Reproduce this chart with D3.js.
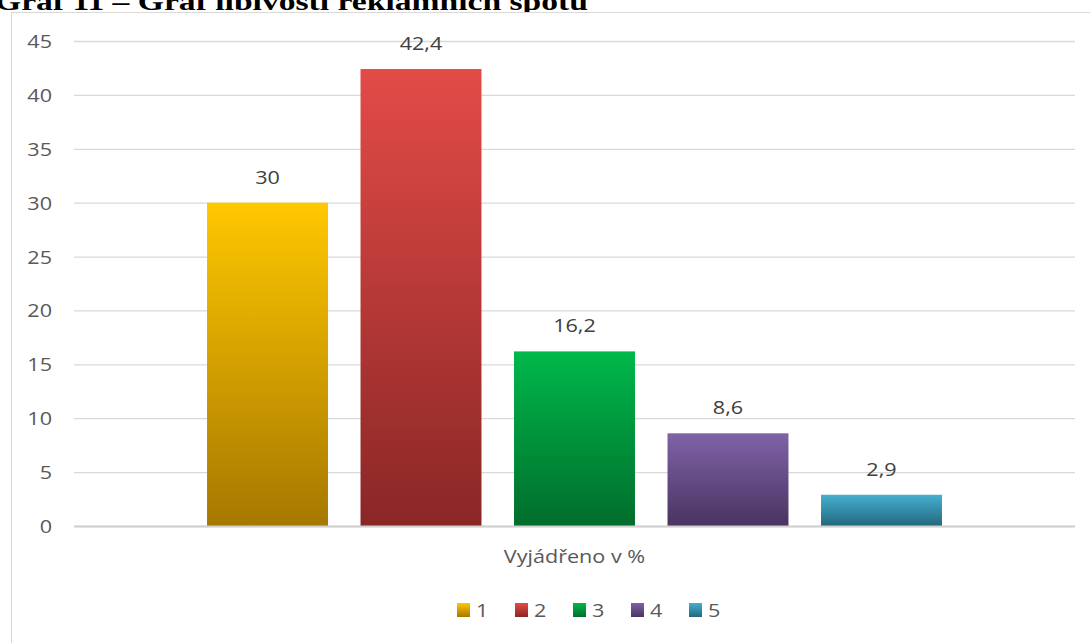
<!DOCTYPE html>
<html>
<head>
<meta charset="utf-8">
<script src="https://cdn.jsdelivr.net/npm/d3@7"></script>
<style>
  html, body { margin: 0; padding: 0; background: #fff; overflow: hidden; }
  svg { display: block; }
</style>
</head>
<body>
<script>
// Chart data
const categories = ["Vyjádřeno v %"];
const series = ["1", "2", "3", "4", "5"];
const values = [30, 42.4, 16.2, 8.6, 2.9];
const yTicks = [0, 5, 10, 15, 20, 25, 30, 35, 40, 45];
const topColors = ["#ffc800", "#e34b47", "#00b84b", "#7f62a7", "#46afd0"];
const bottomColors = ["#a67800", "#892726", "#006d2c", "#493461", "#22687d"];
const titleText = "Graf 11 – Graf líbivosti reklamních spotů";

const W = 1090, H = 643;
const plot = { left: 74, right: 1075, top: 41, bottom: 526 };
const FONT = "'Open Sans', sans-serif";
const SX = 1.2; // horizontal stretch of the chart lettering

const cz = d3.formatLocale({ decimal: ",", thousands: " ", grouping: [3], currency: ["", " Kč"] });
const fmt = cz.format(".1~f");

const svg = d3.select("body").append("svg").attr("width", W).attr("height", H);
const defs = svg.append("defs");

series.forEach((s, i) => {
  const g = defs.append("linearGradient")
    .attr("id", "grad" + i).attr("x1", 0).attr("y1", 0).attr("x2", 0).attr("y2", 1);
  g.append("stop").attr("offset", "0%").attr("stop-color", topColors[i]);
  g.append("stop").attr("offset", "100%").attr("stop-color", bottomColors[i]);
});

// Heading of the figure, partly clipped by the page top
svg.append("text")
  .attr("x", -5).attr("y", 10)
  .attr("font-family", "'Liberation Serif', serif")
  .attr("font-weight", "bold")
  .attr("font-size", 25)
  .attr("fill", "#000")
  .attr("textLength", 593)
  .attr("lengthAdjust", "spacingAndGlyphs")
  .text(titleText);

// Chart frame
svg.append("rect")
  .attr("x", 11.5).attr("y", 12.5)
  .attr("width", W + 20).attr("height", H + 20)
  .attr("fill", "#fff")
  .attr("stroke", "#d9d9d9").attr("stroke-width", 1);

const y = d3.scaleLinear().domain([0, 45]).range([plot.bottom, plot.top]);

const x0 = d3.scaleBand().domain(categories)
  .range([plot.left, plot.right]).paddingInner(0).paddingOuter(0.181);
const x1 = d3.scaleBand().domain(series)
  .range([0, x0.bandwidth()]).paddingInner(0.212).paddingOuter(0);

// Gridlines and y-axis labels
const yAxis = d3.axisLeft(y).tickValues(yTicks)
  .tickSize(-(plot.right - plot.left)).tickPadding(0);
const ga = svg.append("g").attr("transform", `translate(${plot.left},0)`).call(yAxis);
ga.select(".domain").remove();
ga.selectAll(".tick line").attr("stroke", "#d9d9d9").attr("stroke-width", 1.3);
ga.selectAll(".tick text")
  .attr("x", 0).attr("dy", "0.36em")
  .attr("transform", `translate(-22,0) scale(${SX},1)`)
  .attr("font-family", FONT).attr("font-size", 18).attr("fill", "#595959")
  .attr("text-anchor", "end");

// Bars
const gBars = svg.append("g");
categories.forEach(cat => {
  const gc = gBars.append("g").attr("transform", `translate(${x0(cat)},0)`);
  gc.selectAll("rect").data(values).join("rect")
    .attr("x", (d, i) => x1(series[i]))
    .attr("y", d => y(d))
    .attr("width", x1.bandwidth())
    .attr("height", d => y(0) - y(d))
    .attr("fill", (d, i) => `url(#grad${i})`);

  gc.selectAll("g.lbl").data(values).join("g")
    .attr("class", "lbl")
    .attr("transform", (d, i) => `translate(${x1(series[i]) + x1.bandwidth() / 2},${y(d) - 19}) scale(${SX},1)`)
    .append("text")
    .attr("text-anchor", "middle")
    .attr("font-family", FONT).attr("font-size", 18).attr("fill", "#404040")
    .text(d => fmt(d));
});

// Baseline
svg.append("line")
  .attr("x1", plot.left).attr("x2", plot.right)
  .attr("y1", y(0) + 0.5).attr("y2", y(0) + 0.5)
  .attr("stroke", "#d0d0d0").attr("stroke-width", 2);

// Category label
categories.forEach(cat => {
  svg.append("g")
    .attr("transform", `translate(${x0(cat) + x0.bandwidth() / 2},563) scale(${SX},1)`)
    .append("text")
    .attr("text-anchor", "middle")
    .attr("font-family", FONT).attr("font-size", 18).attr("fill", "#595959")
    .text(cat);
});

// Legend
const legendX0 = 457, legendStep = 58, legendY = 603;
const gl = svg.append("g");
series.forEach((s, i) => {
  const item = gl.append("g").attr("transform", `translate(${legendX0 + i * legendStep},${legendY})`);
  item.append("rect").attr("x", 0).attr("y", 0).attr("width", 13).attr("height", 14)
    .attr("fill", `url(#grad${i})`);
  item.append("g").attr("transform", `translate(19,13.5) scale(${SX},1)`)
    .append("text")
    .attr("font-family", FONT).attr("font-size", 18).attr("fill", "#595959")
    .text(s);
});
</script>
</body>
</html>
